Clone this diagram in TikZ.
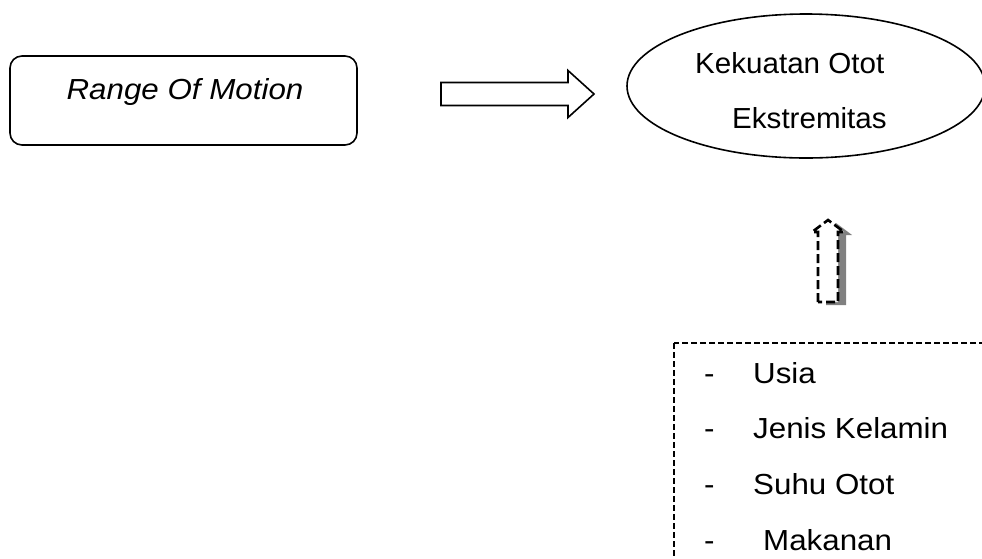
\documentclass[tikz,border=0pt]{standalone}
\usepackage{fontspec}
\setmainfont{Liberation Sans}
\newfontfamily\widesans[FakeStretch=1.08]{Liberation Sans}
\newfontfamily\ovalsans[FakeStretch=1.02]{Liberation Sans}
\usetikzlibrary{shapes.geometric}
\begin{document}
\begin{tikzpicture}[x=1pt,y=-1pt,
  txt/.style={font=\widesans\fontsize{29}{35}\selectfont, inner sep=0pt},
  ovaltxt/.style={font=\ovalsans\fontsize{29}{35}\selectfont, inner sep=0pt, anchor=base west},
  itemtxt/.style={txt, anchor=base west},
  blockarrow/.style={draw=black, fill=white, line width=1.6pt, line join=miter},
  uparrow/.style={draw=black, fill=white, line width=2.6pt, dash pattern=on 9pt off 4pt},
  upshadow/.style={fill=black!50, draw=none}]
  \useasboundingbox (0,0) rectangle (982,558);
  \clip (0,0) rectangle (982,558);

  % left box
  \node[draw, line width=1.6pt, rounded corners=12pt, minimum width=347pt,
        minimum height=89pt, inner sep=0pt] (rom) at (183.5,100.5) {};
  \node[txt, anchor=base] (romtxt) at (185,99) {\itshape Range Of Motion};

  % ellipse
  \node[ellipse, draw, line width=1.6pt, minimum width=358pt, minimum height=144pt,
        inner sep=0pt] (kek) at (806,86) {};
  \node[ovaltxt] (kek1) at (695,73) {Kekuatan Otot};
  \node[ovaltxt] (kek2) at (732,128) {Ekstremitas};

  % block arrow between them
  \coordinate (ha) at (441,94);
  \draw[blockarrow] (ha) ++(0,-11.5) -- ++(127,0) -- ++(0,-12) -- ++(26,23.5)
        -- ++(-26,23.5) -- ++(0,-12) -- ++(-127,0) -- cycle;

  % up arrow with its shadow
  \coordinate (ua) at (818,302);
  \coordinate (uas) at (826,305);
  \fill[upshadow] (uas) -- ++(0,-70) -- ++(-6,0) -- ++(16,-12)
        -- ++(16,12) -- ++(-6,0) -- ++(0,70) -- cycle;
  \draw[uparrow] (ua) -- ++(0,-70) -- ++(-6,0) -- ++(16,-12)
        -- ++(16,12) -- ++(-6,0) -- ++(0,70) -- cycle;

  % factor box
  \draw[line width=1.5pt, dash pattern=on 6pt off 3pt] (674,343) rectangle (1000,600);
  \node[itemtxt] (d1) at (704,383) {-};
  \node[itemtxt] (i1) at (753,383) {Usia};
  \node[itemtxt] (d2) at (704,438) {-};
  \node[itemtxt] (i2) at (753,438) {Jenis Kelamin};
  \node[itemtxt] (d3) at (704,494) {-};
  \node[itemtxt] (i3) at (753,494) {Suhu Otot};
  \node[itemtxt] (d4) at (704,550) {-};
  \node[itemtxt] (i4) at (763,550) {Makanan};
\end{tikzpicture}
\end{document}
